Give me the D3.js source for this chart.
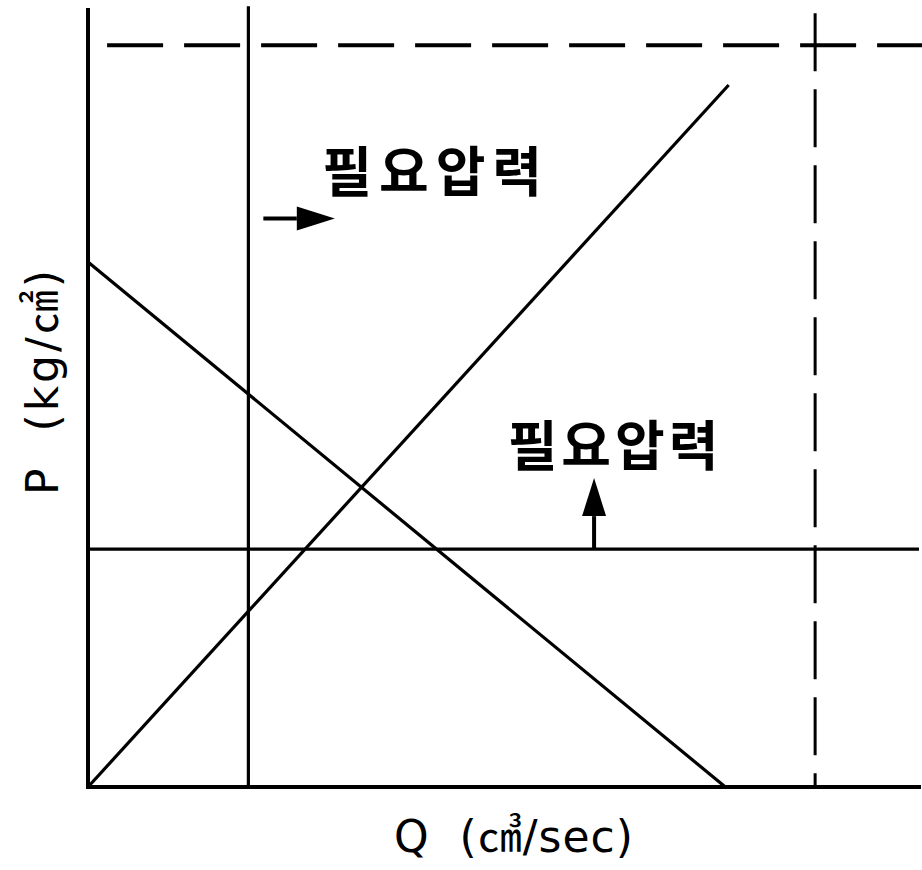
<!DOCTYPE html>
<html>
<head>
<meta charset="utf-8">
<script src="https://cdn.jsdelivr.net/npm/d3@7"></script>
<style>
  body { margin: 0; background: #fff; }
  svg { display: block; }
  .kr { font-family: "Noto Sans CJK KR", sans-serif; font-weight: 700; }
  .axis-label { font-family: "DejaVu Sans", sans-serif; }
  .unit { font-family: "Noto Sans CJK KR", sans-serif; }
</style>
</head>
<body>
<svg id="chart"></svg>
<script>
// values, in chart units (Q along, P up)
var axisLines = [
    [[0, 0], [10, 0]],        // Q axis
    [[0, 0], [0, 9.96]]       // P axis
];
var supplyLine = [[0, 0], [7.71, 9.0]];
var demandLine = [[0, 6.73], [7.67, 0]];
var requiredP = [[0, 3.05], [10, 3.05]];
var requiredQ = [[1.93, 0], [1.93, 10.01]];
var maxP = [[0.23, 9.51], [10.04, 9.51]];
var maxQ = [[8.75, 0], [8.75, 9.92]];

var arrows = [
    {from: [6.09, 3.05], to: [6.09, 3.96]},
    {from: [2.11, 7.29], to: [2.97, 7.29]}
];
var labels = [
    {text: "필요압력", at: [2.82, 7.63]},
    {text: "필요압력", at: [5.05, 4.12]}
];
var xTitle = ["Q  (", "㎤", "/sec)"];
var yTitle = ["P  (kg/", "㎠", ")"];

var width = 922, height = 870;

var svg = d3.select('#chart').attr('width', width).attr('height', height);

var x = d3.scaleLinear().domain([0, 10]).range([88, 919]);
var y = d3.scaleLinear().domain([0, 10]).range([787, 7]);

var line = d3.line()
    .x(function(d){ return x(d[0]); })
    .y(function(d){ return y(d[1]); });

axisLines.forEach(function(l){
    svg.append('path').attr('d', line(l))
        .attr('fill', 'none').attr('stroke', '#000').attr('stroke-width', 4)
        .attr('stroke-linecap', 'square');
});

[supplyLine, demandLine, requiredP, requiredQ].forEach(function(l){
    svg.append('path').attr('d', line(l))
        .attr('fill', 'none').attr('stroke', '#000').attr('stroke-width', 3.2);
});

svg.append('path').attr('d', line(maxP))
    .attr('fill', 'none').attr('stroke', '#000').attr('stroke-width', 4)
    .attr('stroke-dasharray', '56,21');
svg.append('path').attr('d', line(maxQ.slice().reverse()))
    .attr('fill', 'none').attr('stroke', '#000').attr('stroke-width', 3)
    .attr('stroke-dasharray', '58,18');

// arrows: stem + filled head
arrows.forEach(function(a){
    var x1 = x(a.from[0]), y1 = y(a.from[1]), x2 = x(a.to[0]), y2 = y(a.to[1]);
    var ang = Math.atan2(y2 - y1, x2 - x1);
    var len = 38, half = 12;
    var bx = x2 - len * Math.cos(ang), by = y2 - len * Math.sin(ang);
    svg.append('line').attr('x1', x1).attr('y1', y1).attr('x2', bx).attr('y2', by)
        .attr('stroke', '#000').attr('stroke-width', 4);
    var pts = [
        [x2, y2],
        [bx + half * Math.sin(ang), by - half * Math.cos(ang)],
        [bx - half * Math.sin(ang), by + half * Math.cos(ang)]
    ];
    svg.append('polygon').attr('points', pts.map(function(p){ return p.join(','); }).join(' '))
        .attr('fill', '#000');
});

svg.selectAll('.kr').data(labels).enter().append('text')
    .attr('class', 'kr')
    .attr('x', function(d){ return x(d.at[0]); })
    .attr('y', function(d){ return y(d.at[1]); })
    .attr('font-size', 54)
    .attr('letter-spacing', function(d, i){ return i == 0 ? 7 : 4; })
    .text(function(d){ return d.text; });

function title(parts, sel){
    sel.style('white-space', 'pre');
    parts.forEach(function(p, i){
        sel.append('tspan').attr('class', i == 1 ? 'unit' : null).text(p);
    });
}

var xt = svg.append('text').attr('class', 'axis-label')
    .attr('x', 514).attr('y', 852)
    .attr('text-anchor', 'middle')
    .attr('font-size', 44)
    .attr('letter-spacing', 1);
title(xTitle, xt);

var yt = svg.append('text').attr('class', 'axis-label')
    .attr('transform', 'translate(58,381) rotate(-90)')
    .attr('text-anchor', 'middle')
    .attr('font-size', 44)
    .attr('letter-spacing', 3);
title(yTitle, yt);
</script>
</body>
</html>
